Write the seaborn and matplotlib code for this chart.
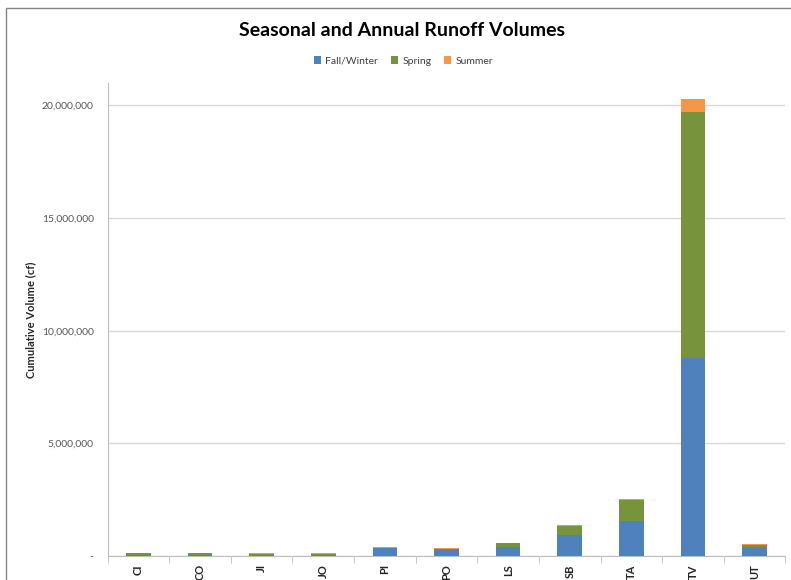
import numpy as np
import pandas as pd
import matplotlib
matplotlib.use('Agg')
import matplotlib.pyplot as plt
from matplotlib.patches import Rectangle, Patch
from matplotlib.ticker import FuncFormatter, FixedLocator
import seaborn as sns

# data (cubic feet)
sites = ['CI', 'CO', 'JI', 'JO', 'PI', 'PO', 'LS', 'SB', 'TA', 'TV', 'UT']
fall_winter = [50000, 50000, 40000, 40000, 340000, 310000, 390000, 940000, 1570000, 8790000, 390000]
spring = [80000, 75000, 60000, 55000, 25000, 20000, 170000, 380000, 930000, 10900000, 90000]
summer = [20000, 20000, 20000, 20000, 25000, 20000, 20000, 50000, 40000, 580000, 40000]

df = pd.DataFrame({'site': sites, 'Fall/Winter': fall_winter, 'Spring': spring, 'Summer': summer})
df['fw_top'] = df['Fall/Winter']
df['sp_top'] = df['fw_top'] + df['Spring']
df['su_top'] = df['sp_top'] + df['Summer']

colors = {'Fall/Winter': '#4F81BD', 'Spring': '#77933C', 'Summer': '#F79646'}

sns.set_style('white')
plt.rcParams['font.family'] = ['Lato', 'DejaVu Sans']

fig = plt.figure(figsize=(7.91, 5.80), dpi=100)
ax = fig.add_axes([0.136, 0.0414, 0.857, 0.8156])

# stacked bars: draw cumulative totals from the top down
for col, key in [('su_top', 'Summer'), ('sp_top', 'Spring'), ('fw_top', 'Fall/Winter')]:
    sns.barplot(data=df, x='site', y=col, order=sites, color=colors[key],
                width=0.4, saturation=1, linewidth=0, ax=ax, zorder=3)

ax.set_ylim(0, 21000000)
ax.set_xlim(-0.5, len(sites) - 0.5)
ax.set_yticks([0, 5000000, 10000000, 15000000, 20000000])
ax.yaxis.set_major_formatter(FuncFormatter(lambda v, p: '-' if v == 0 else f'{int(v):,}'))
ax.grid(axis='y', color='#D9D9D9', linewidth=1, zorder=0)
ax.set_axisbelow(True)

for s in ['top', 'right']:
    ax.spines[s].set_visible(False)
ax.spines['left'].set_color('#BFBFBF')
ax.spines['bottom'].set_color('#BFBFBF')

ax.tick_params(axis='y', length=5, color='#BFBFBF', labelsize=7.5, labelcolor='#595959', pad=5)
ax.tick_params(axis='x', length=0, labelsize=8, labelcolor='#262626', pad=6)
plt.setp(ax.get_xticklabels(), rotation=90, fontweight='bold')

# tick marks between categories
ax.xaxis.set_minor_locator(FixedLocator(np.arange(-0.5, len(sites), 1.0)))
ax.tick_params(axis='x', which='minor', length=5, color='#BFBFBF', bottom=True)

ax.set_xlabel('')
ax.set_ylabel('Cumulative Volume (cf)', fontsize=8, fontweight='bold')
ax.yaxis.set_label_coords(-0.105, 0.5)

fig.text(0.508, 0.948, 'Seasonal and Annual Runoff Volumes', ha='center', va='center',
         fontsize=14, fontweight='bold', color='black')

handles = [Patch(facecolor=colors[k], edgecolor='none') for k in ['Fall/Winter', 'Spring', 'Summer']]
fig.legend(handles, ['Fall/Winter', 'Spring', 'Summer'], loc='center', bbox_to_anchor=(0.51, 0.895),
           ncol=3, frameon=False, fontsize=7.5, handlelength=0.7, handleheight=0.7,
           handletextpad=0.4, columnspacing=1.2, labelcolor='#404040')

# chart frame
fig.patches.append(Rectangle((6 / 791, -0.1), 1.2, 1 - 8 / 580 + 0.1, transform=fig.transFigure,
                             fill=False, edgecolor='#868686', linewidth=1))

fig.savefig('out.png', dpi=100)
